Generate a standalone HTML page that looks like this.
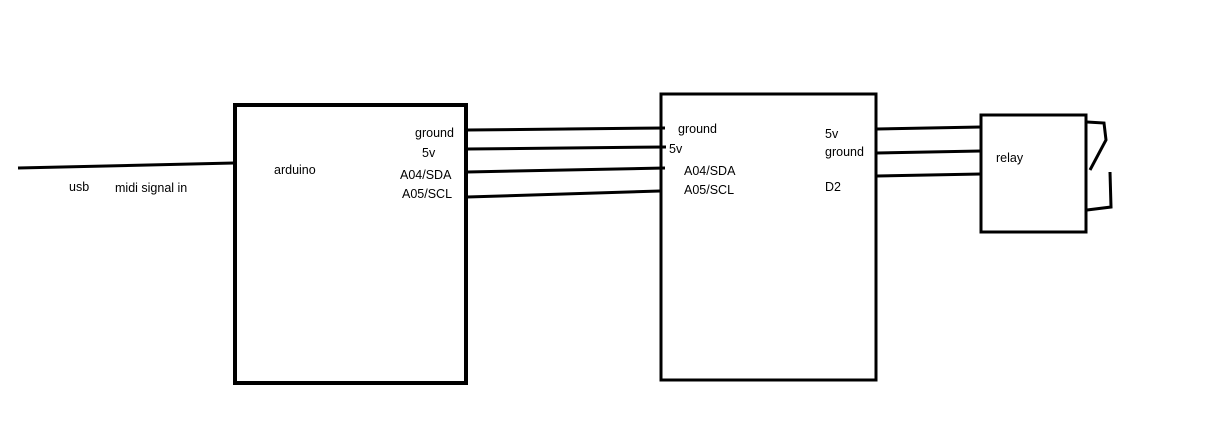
<!DOCTYPE html>
<html><head><style>
body{margin:0;background:#fff;}
svg text{font-family:"Liberation Sans","DejaVu Sans",sans-serif;font-size:12.5px;fill:#000;}
</style></head><body>
<svg width="1222" height="435" xmlns="http://www.w3.org/2000/svg">
<g fill="none" stroke="#000">
<rect x="235" y="105" width="231" height="278" stroke-width="4"/>
<rect x="661" y="94" width="215" height="286" stroke-width="3"/>
<rect x="981" y="115" width="105" height="117" stroke-width="3"/>
<g stroke-width="3">
<line x1="18" y1="168" x2="234" y2="163"/>
<line x1="467" y1="130" x2="665" y2="128"/>
<line x1="467" y1="149" x2="666" y2="147"/>
<line x1="467" y1="172" x2="665" y2="168"/>
<line x1="467" y1="197" x2="660" y2="191"/>
<line x1="877" y1="129" x2="981" y2="127"/>
<line x1="877" y1="153" x2="981" y2="151"/>
<line x1="877" y1="176" x2="981" y2="174"/>
<polyline points="1087,122 1104,123 1106,140 1090,170"/>
<polyline points="1110,172 1111,207 1087,210"/>
</g>
</g>
<text x="69" y="191">usb</text>
<text x="115" y="192">midi signal in</text>
<text x="274" y="174">arduino</text>
<text x="415" y="137">ground</text>
<text x="422" y="157">5v</text>
<text x="400" y="179">A04/SDA</text>
<text x="402" y="198">A05/SCL</text>
<text x="678" y="133">ground</text>
<text x="669" y="153">5v</text>
<text x="684" y="175">A04/SDA</text>
<text x="684" y="194">A05/SCL</text>
<text x="825" y="138">5v</text>
<text x="825" y="156">ground</text>
<text x="825" y="191">D2</text>
<text x="996" y="162">relay</text>
</svg>
</body></html>
